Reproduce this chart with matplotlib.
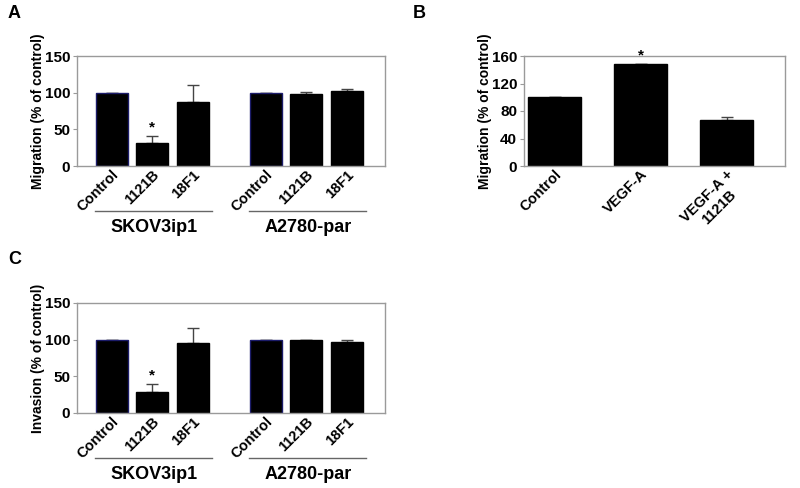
import matplotlib.pyplot as plt
from matplotlib.transforms import blended_transform_factory
from matplotlib.lines import Line2D

plt.rcParams['font.family'] = ['Liberation Sans', 'DejaVu Sans']
plt.rcParams['font.weight'] = 'bold'
plt.rcParams['axes.labelweight'] = 'bold'

# data
treatments = ["Control", "1121B", "18F1"]
cell_lines = ["SKOV3ip1", "A2780-par"]

migration_means = [100, 32, 87, 100, 98, 102]
migration_err = [0, 9, 24, 0, 3, 3]
migration_sig = [False, True, False, False, False, False]

invasion_means = [100, 28, 95, 100, 99, 97]
invasion_err = [0, 12, 21, 0, 1, 3]
invasion_sig = [False, True, False, False, False, False]

vegf_labels = ["Control", "VEGF-A", "VEGF-A +\n1121B"]
vegf_means = [100, 148, 67]
vegf_err = [1, 1, 4]
vegf_sig = [False, True, False]

GRAY = '#9a9a9a'


def style_axes(ax):
    for s in ax.spines.values():
        s.set_color(GRAY)
        s.set_linewidth(1)
    ax.tick_params(axis='y', length=3, width=0.8, color=GRAY, labelsize=11, pad=2)
    ax.tick_params(axis='x', length=0, labelsize=10.5, pad=1)


def draw_bars(ax, xs, means, errs, sig, width, edgecolors):
    ax.bar(xs, means, width=width, color='black', edgecolor=edgecolors, linewidth=1, zorder=2)
    ax.errorbar(xs, means, yerr=[[0] * len(errs), errs], fmt='none', ecolor='#444444',
                elinewidth=1, capsize=4, capthick=1, zorder=1)
    for x, m, e, s in zip(xs, means, errs, sig):
        if s:
            ax.annotate('*', (x, m + e), xytext=(0, 1), textcoords='offset points',
                        ha='center', va='bottom', fontsize=11)


def grouped_panel(ax, means, errs, sig, ylabel):
    xs = [0, 1, 2, 3.8, 4.8, 5.8]
    edges = ['#1c1c6a', 'black', 'black'] * 2
    draw_bars(ax, xs, means, errs, sig, 0.79, edges)
    ax.set_xlim(-0.86, 6.74)
    ax.set_ylim(0, 150)
    ax.set_yticks([0, 50, 100, 150])
    ax.set_xticks(xs)
    ax.set_xticklabels(treatments * 2, rotation=45, ha='right', va='top',
                       rotation_mode='anchor')
    ax.set_ylabel(ylabel, fontsize=10, labelpad=0)
    style_axes(ax)
    trans = blended_transform_factory(ax.transData, ax.transAxes)
    for g, name in enumerate(cell_lines):
        first, last = xs[3 * g], xs[3 * g + 2]
        ax.add_line(Line2D([first - 0.42, last + 0.47], [-0.41, -0.41], transform=trans,
                           color='#666666', linewidth=1, clip_on=False))
        ax.text((first + last) / 2 + 0.05, -0.56, name, transform=trans, ha='center',
                va='center', fontsize=13)


fig = plt.figure(figsize=(8, 4.88), dpi=100)

ax_a = fig.add_axes([77 / 800, 1 - 166 / 488, 308 / 800, 110 / 488])
grouped_panel(ax_a, migration_means, migration_err, migration_sig, "Migration (% of control)")

ax_c = fig.add_axes([77 / 800, 1 - 413 / 488, 308 / 800, 110 / 488])
grouped_panel(ax_c, invasion_means, invasion_err, invasion_sig, "Invasion (% of control)")

ax_b = fig.add_axes([524 / 800, 1 - 166 / 488, 261 / 800, 110 / 488])
xb = [0, 1, 2]
draw_bars(ax_b, xb, vegf_means, vegf_err, vegf_sig, 0.62, 'black')
ax_b.set_xlim(-0.355, 2.68)
ax_b.set_ylim(0, 160)
ax_b.set_yticks([0, 40, 80, 120, 160])
ax_b.set_xticks(xb)
ax_b.set_xticklabels(vegf_labels, rotation=45, ha='right', va='top',
                     rotation_mode='anchor', multialignment='center')
ax_b.set_ylabel("Migration (% of control)", fontsize=10, labelpad=0)
style_axes(ax_b)

fig.text(8 / 800, 1 - 14 / 488, 'A', fontsize=13, va='center')
fig.text(413 / 800, 1 - 14 / 488, 'B', fontsize=13, va='center')
fig.text(8 / 800, 1 - 259 / 488, 'C', fontsize=13, va='center')

fig.savefig('out.png', dpi=100)
